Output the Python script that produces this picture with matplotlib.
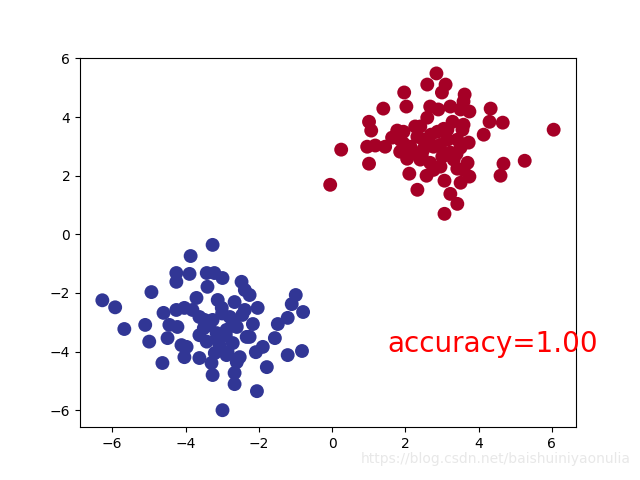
import matplotlib
matplotlib.use("Agg")
import matplotlib.pyplot as plt
import numpy as np

# class 0 (red) points
red_x = [-0.05, 0.25, 1.01, 1.01, 1.07, 1.40, 1.97, 2.03, 2.85, 2.60, 3.10, 3.00,
         3.62, 3.59, 3.75, 4.33, 4.66, 4.30, 4.14, 6.05, 5.26, 4.68, 4.60, 3.75,
         3.51, 3.70, 3.42, 2.58, 2.77, 2.33, 2.11, 3.07, 3.23, 3.42, 3.07,
         0.96, 1.18, 1.45, 1.78, 1.86, 2.05, 2.41, 2.60, 2.68, 2.90, 3.23, 3.51,
         3.59, 3.56, 3.73, 3.42, 3.15, 2.88, 2.33, 2.14, 2.49, 2.77, 3.01, 3.23,
         3.51, 2.41, 2.68, 2.96, 3.32, 3.59, 1.86, 1.64, 1.95, 2.27, 2.49, 3.15,
         3.29, 2.20, 2.55, 2.95, 3.40, 2.70, 3.05, 1.95, 2.45]
red_y = [1.69, 2.89, 2.41, 3.84, 3.54, 4.29, 4.84, 4.36, 5.49, 5.11, 5.11, 4.84,
         4.77, 4.53, 4.19, 4.29, 3.81, 3.84, 3.40, 3.57, 2.51, 2.41, 2.00, 1.97,
         1.76, 2.44, 2.24, 2.00, 2.20, 1.52, 2.07, 1.83, 1.38, 1.04, 0.70,
         2.99, 3.03, 2.99, 3.54, 2.82, 2.58, 3.68, 3.98, 4.36, 4.26, 4.36, 4.26,
         3.74, 3.57, 3.13, 3.23, 3.23, 3.50, 3.33, 2.99, 2.89, 2.99, 2.65, 2.79,
         2.96, 2.55, 2.44, 2.31, 2.55, 2.20, 3.23, 3.30, 3.50, 3.68, 3.23, 3.57,
         3.84, 2.80, 3.15, 3.05, 2.75, 3.40, 3.60, 3.10, 2.70]

# class 1 (blue) points
blue_x = [-3.26, -3.86, -6.27, -5.92, -5.67, -5.10, -4.93, -4.99, -4.63, -2.99,
          -2.05, -2.66, -2.66, -3.26, -1.78, -1.21, -0.82, -1.56, -1.89, -2.08,
          -1.48, -1.21, -0.79, -1.10, -0.99, -2.03, -2.16, -2.25, -2.47, -2.38,
          -2.25, -2.66, -2.99, -3.21, -3.42, -3.40, -3.89, -4.25, -4.25, -3.70,
          -4.03, -4.25, -4.60, -4.44, -4.22, -4.49, -4.11, -4.03, -3.62, -3.29,
          -2.88, -2.52, -2.71, -3.07, -3.42, -3.62, -3.48, -3.26, -3.12, -3.01,
          -2.79, -2.60, -2.88, -3.15, -2.33, -3.62, -3.81, -2.38, -3.97, -2.60,
          -2.85, -3.00, -2.70, -3.35, -3.10, -2.90, -3.50, -2.45, -3.20]
blue_y = [-0.36, -0.74, -2.25, -2.49, -3.23, -3.09, -1.97, -3.66, -4.39, -6.00,
          -5.35, -5.11, -4.73, -4.80, -4.53, -4.12, -3.98, -3.54, -3.84, -4.02,
          -3.06, -2.85, -2.65, -2.38, -2.07, -2.51, -3.06, -3.50, -1.62, -1.90,
          -2.07, -2.31, -1.49, -1.32, -1.32, -1.79, -1.35, -1.32, -1.62, -2.17,
          -2.51, -2.58, -2.68, -3.09, -3.16, -3.54, -3.78, -4.19, -4.22, -4.39,
          -4.12, -4.19, -3.71, -3.78, -3.66, -3.44, -2.92, -2.92, -2.24, -2.51,
          -2.82, -3.16, -3.26, -3.37, -3.50, -2.82, -2.58, -2.58, -3.84, -4.36,
          -4.02, -2.70, -3.00, -3.10, -3.55, -3.45, -3.20, -2.75, -4.05]

accuracy = 1.00

xs = np.array(red_x + blue_x)
ys = np.array(red_y + blue_y)
labels = np.array([0] * len(red_x) + [1] * len(blue_x))

fig = plt.figure(figsize=(6.4, 4.8), dpi=100)
plt.scatter(xs, ys, c=labels, s=100, lw=0, cmap='RdYlBu')
plt.text(1.5, -4, 'accuracy=%.2f' % accuracy, fontdict={'size': 20, 'color': 'red'})
plt.xlim(-6.88, 6.66)
plt.ylim(-6.58, 6.03)
fig.text(0.985, 0.03, 'https://blog.csdn.net/baishuiniyaonulia', ha='right',
         va='bottom', fontsize=10, color='#e8e8e8')
plt.savefig('out.png')
